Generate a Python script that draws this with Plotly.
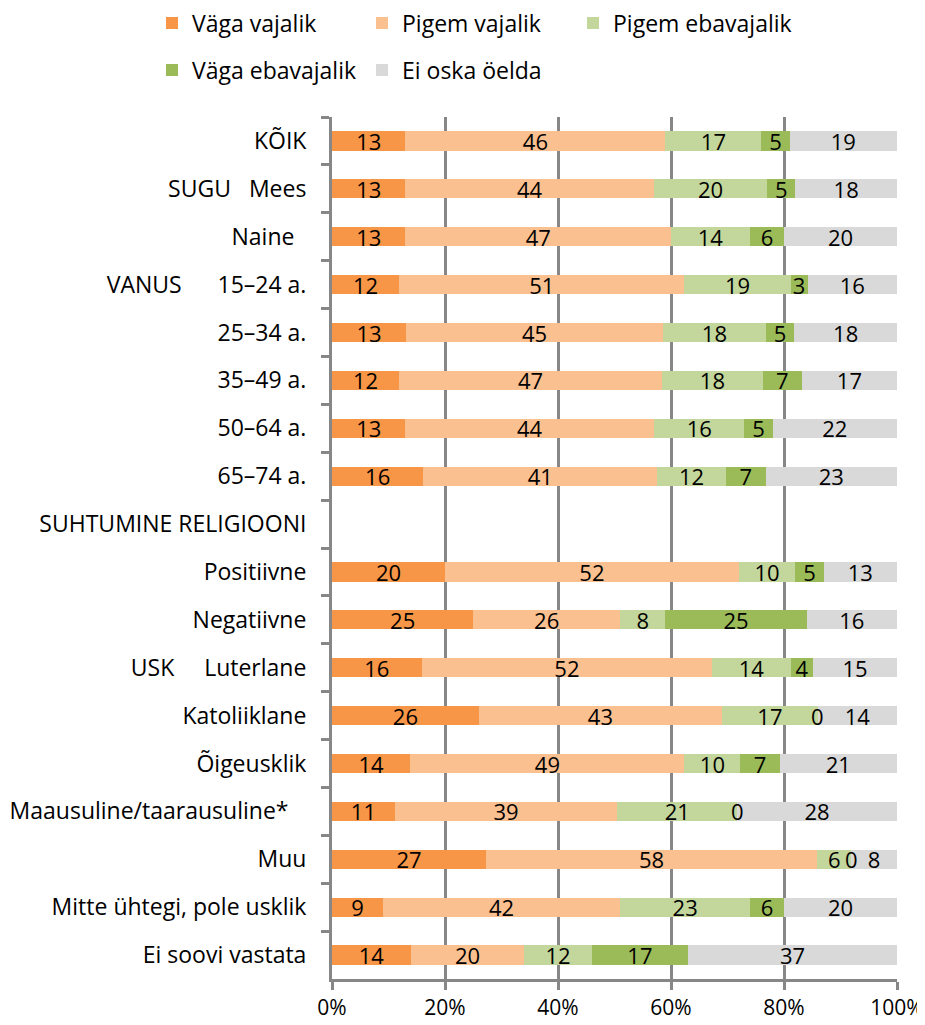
import plotly.graph_objects as go

NB = "\u00a0"
categories = [
    "KÕIK",
    "SUGU" + NB * 3 + "Mees",
    "Naine" + NB * 2,
    "VANUS" + NB * 6 + "15–24 a.",
    "25–34 a.",
    "35–49 a.",
    "50–64 a.",
    "65–74 a.",
    "SUHTUMINE RELIGIOONI",
    "Positiivne",
    "Negatiivne",
    "USK" + NB * 5 + "Luterlane",
    "Katoliiklane",
    "Õigeusklik",
    "Maausuline/taarausuline*" + NB * 3,
    "Muu",
    "Mitte ühtegi, pole usklik",
    "Ei soovi vastata",
]

series_names = ["Väga vajalik", "Pigem vajalik", "Pigem ebavajalik", "Väga ebavajalik", "Ei oska öelda"]

vaga_vajalik =     [13, 13, 13, 12, 13, 12, 13, 16, None, 20, 25, 16, 26, 14, 11, 27, 9, 14]
pigem_vajalik =    [46, 44, 47, 51, 45, 47, 44, 41, None, 52, 26, 52, 43, 49, 39, 58, 42, 20]
pigem_ebavajalik = [17, 20, 14, 19, 18, 18, 16, 12, None, 10, 8, 14, 17, 10, 21, 6, 23, 12]
vaga_ebavajalik =  [5, 5, 6, 3, 5, 7, 5, 7, None, 5, 25, 4, 0, 7, 0, 0, 6, 17]
ei_oska =          [19, 18, 20, 16, 18, 17, 22, 23, None, 13, 16, 15, 14, 21, 28, 8, 20, 37]

series_values = [vaga_vajalik, pigem_vajalik, pigem_ebavajalik, vaga_ebavajalik, ei_oska]
colors = ["#F79646", "#FAC090", "#C3D69B", "#9BBB59", "#D9D9D9"]

x_tickvals = [0, 20, 40, 60, 80, 100]
x_ticktext = ["0%", "20%", "40%", "60%", "80%", "100%"]

FONT = "Open Sans"
FS_BAR = 22
FS_TICK = 23
FS_XTICK = 21
FS_LEG = 23
GRID = "#878787"

# page is rendered with an 8px body margin; figure sized to compensate
W, H = 917, 1017

legend_ids = ["legend", "legend2", "legend3", "legend4", "legend5"]
# legend placement (figure px): left x, center y
legend_pos = [(144, 15), (354, 15), (565, 15), (144, 62), (354, 62)]

fig = go.Figure()
for i, (name, vals, col) in enumerate(zip(series_names, series_values, colors)):
    texts = ["" if (v is None or v == 0) else str(v) for v in vals]
    fig.add_trace(go.Bar(
        y=categories, x=vals, name=name, orientation="h",
        marker=dict(color=col, line=dict(width=0)),
        text=texts, textposition="inside", insidetextanchor="middle",
        constraintext="none", textangle=0,
        textfont=dict(family=FONT, size=FS_BAR, color="black"),
        width=0.4,
        legend=legend_ids[i],
        hoverinfo="skip",
    ))

# zero-value labels placed at cumulative position
for r, cat in enumerate(categories):
    row = [s[r] for s in series_values]
    if row[0] is None:
        continue
    total = sum(row)
    cum = 0
    for v in row:
        if v == 0:
            fig.add_annotation(x=cum / total * 100, y=cat, text="0", showarrow=False,
                               font=dict(family=FONT, size=FS_BAR, color="black"),
                               xref="x", yref="y")
        cum += v

layout_legends = {}
for lid, (lx, ly) in zip(legend_ids, legend_pos):
    layout_legends[lid] = dict(
        orientation="h", xref="container", yref="container",
        x=lx / W, y=1 - ly / H, xanchor="left", yanchor="middle",
        font=dict(family=FONT, size=FS_LEG, color="black"),
        bgcolor="rgba(0,0,0,0)",
    )

fig.update_layout(
    barmode="stack", barnorm="percent",
    width=W, height=H, showlegend=True,
    margin=dict(l=324, r=28, t=109, b=46, autoexpand=False),
    paper_bgcolor="white", plot_bgcolor="white",
    font=dict(family=FONT, size=FS_TICK, color="black"),
    **layout_legends,
)
fig.update_xaxes(
    range=[0, 100], tickvals=x_tickvals, ticktext=x_ticktext,
    showgrid=True, gridcolor=GRID, gridwidth=3,
    showline=True, linecolor=GRID, linewidth=3,
    ticks="outside", ticklen=8, tickwidth=3, tickcolor=GRID,
    zeroline=False, tickfont=dict(family=FONT, size=FS_XTICK), fixedrange=True,
    ticklabelstandoff=0, ticklabeloverflow="allow", automargin=False,
)
fig.update_yaxes(
    autorange="reversed", type="category",
    showline=True, linecolor=GRID, linewidth=3,
    ticks="outside", tickson="boundaries", ticklen=8, tickwidth=3, tickcolor=GRID,
    showgrid=False, ticklabelstandoff=18,
    tickfont=dict(family=FONT, size=FS_TICK), fixedrange=True,
    automargin=False,
)

fig.write_html("out.html")
